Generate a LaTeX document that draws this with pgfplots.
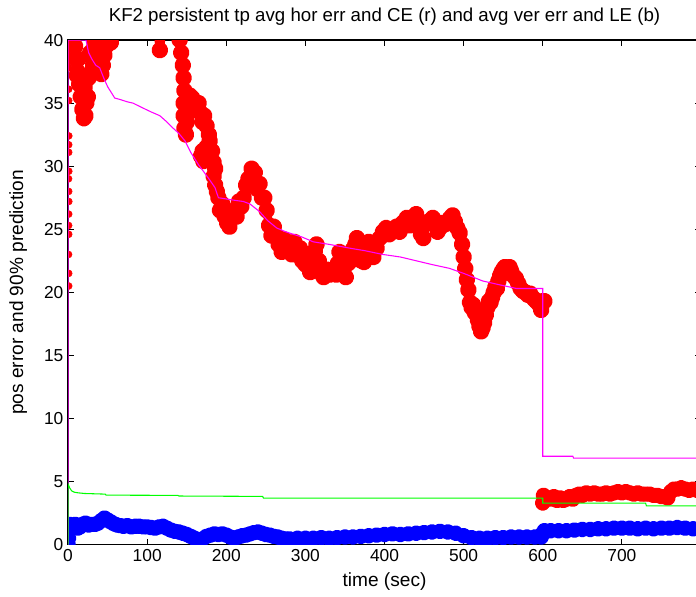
\documentclass[border=0pt]{standalone}
\usepackage{pgfplots}
\pgfplotsset{compat=1.18}
\usepackage{fontspec}
\setmainfont{Liberation Sans}
\definecolor{mred}{RGB}{255,0,0}
\definecolor{mblue}{RGB}{0,0,255}
\definecolor{mmag}{RGB}{255,0,255}
\definecolor{mgreen}{RGB}{0,255,0}
\begin{document}
\begin{tikzpicture}
\begin{axis}[name=ax, scale only axis, width=474.2pt, height=378pt,
  xmin=0, xmax=800, ymin=0, ymax=40,
  xtick={0,100,...,700}, ytick={0,5,...,40},
  tick align=inside, major tick length=4.5pt,
  axis line style={line width=0.9pt, black},
  every tick/.style={black, line width=0.6pt},
  /pgf/number format/assume math mode=true,
  tick label style={font=\fontsize{13}{15}\selectfont},
  title={KF2 persistent tp avg hor err and CE (r) and avg ver err and LE (b)},
  title style={font=\fontsize{14}{16}\selectfont, at={(axis description cs:0.5,1.0456)}, anchor=center, yshift=0pt},
  every axis title shift=0pt,
  xlabel={time (sec)},
  xlabel style={font=\fontsize{14.3}{16}\selectfont, at={(axis description cs:0.5,-0.0734)}, anchor=center},
  ylabel={pos error and 90\% prediction},
  ylabel style={font=\fontsize{14.3}{16}\selectfont, at={(axis description cs:-0.079,0.5)}, anchor=center, rotate=0},
  clip marker paths=true,
]
% red isolated dots at start
\addplot[only marks, mark=*, mark size=2.6pt, mred, mark options={draw=mred, fill=mred}] coordinates {
(0.8,20.5)(0.8,21.5)(0.6,23)(0.8,24.6)(0.7,25.3)(0.8,26.2)(0.9,27.2)(0.8,28)(0.6,29)(0.9,29.6)(0.8,31.1)(0.8,31.7)(0.9,32.4)(0.8,35.2)(0.8,36.1)(1,37.8)(1,38.3)(1.2,38.8)(1.3,39.3)(1.5,39.7)(2,40)
};
% red main band (hor err)
\addplot[mred, line width=6.5pt, line join=round, line cap=round, mark=*, mark size=3pt, mark options={draw=mred, fill=mred}] coordinates {
(3,40)(5,39.8)(7,40.2)(9,39.5)(10,38.5)(11,37.2)(12,37.5)(14,36.5)(13,38.5)(16,35.5)(18,34.5)(20,33.8)(22,34)(23,35)(24,37)(25,35.5)(26,37)(28,39)(30,40.5)(32,40.5)(34,39.5)(36,38.5)(38,37.8)(40,37.5)(42,37.3)(44,38)(46,38.8)(48,39.5)(50,40)(52,40.3)(54,39.8)(56,40.5)(58,41)(60,43)(70,45)(100,45)(110,43)(114,40.5)(116,39.2)(118,40.5)(122,43)(132,45)(138,43)(141,40)(143,39)(145,38)(146,37)(147,36)(146,35)(146,34)(147,33)(149,32.5)(150,33.5)(152,35)(154,35.6)(157,35.4)(160,34.9)(163,34.4)(165,35)(168,34.2)(170,33.5)(172,34)(175,33.2)(178,32.5)(176,31.5)(173,31)(170,31.2)(168,30.8)(171,30.4)(175,31.5)(179,32)(182,31.2)(184,30.3)(186,29.8)(184,29.2)(186,28.5)(188,28)(190,27.5)(192,26.5)(195,27)(198,26)(201,25.5)(204,25.2)(207,26.2)(210,26.5)(213,26)(216,27.2)(219,26.8)(222,27.5)(225,28.5)(228,29)(230,28.5)(232,29.8)(234,29)(236,29.5)(239,28.2)(242,28.6)(245,27.5)(248,27.5)(251,26.5)(254,25.3)(257,24.5)(260,25.2)(263,24.5)(266,23.8)(270,23.2)(273,24.2)(276,23.3)(280,23.8)(283,23)(286,24)(289,23.3)(293,23.5)(296,22.5)(300,22.2)(303,22.8)(306,21.6)(309,22.3)(312,23.3)(314,23.8)(317,22.5)(320,21.5)(323,21.2)(327,21.8)(331,21.4)(335,21.6)(339,21.4)(341,22.3)(343,23.2)(345,22.5)(348,21.7)(351,21.2)(354,22.3)(357,22.5)(360,23.4)(363,23.8)(365,24.3)(368,23.6)(371,22.5)(374,22.4)(377,23.3)(380,24)(383,23.6)(386,22.8)(390,23.5)(394,24.3)(398,24.8)(402,25.1)(406,24.6)(410,24.8)(415,25.2)(419,24.8)(423,25.5)(428,25.9)(432,25.3)(436,25.7)(440,26.2)(443,25.2)(446,24.6)(449,24.3)(452,25.4)(455,25.6)(458,25.5)(461,25.9)(464,25.4)(467,24.8)(470,25.1)(473,25.5)(477,25.4)(480,25.6)(483,25.9)(486,26.1)(489,25.6)(492,25.1)(495,24.7)(498,23.8)(500,22.8)(502,21.9)(504,21.0)(506,20.2)(508,19.2)(510,18.8)(512,19.0)(514,18.4)(516,18.3)(518,17.8)(520,17.3)(522,16.9)(524,17.2)(526,17.6)(528,18.2)(530,18.8)(532,19.3)(534,19.2)(536,19.6)(538,20.0)(540,20.4)(542,20.3)(544,20.9)(546,21.3)(548,21.6)(550,21.8)(552,22.0)(554,21.7)(556,21.9)(558,22.0)(560,21.7)(563,21.3)(566,21.1)(569,20.7)(572,20.3)(575,20.1)(578,20.0)(581,19.8)(584,19.9)(587,19.6)(590,19.4)(593,19.2)(596,19.0)(598,18.6)(600,19.3)(602,19.3)
};
% red after 600
\addplot[mred, line width=6pt, line join=round, line cap=round, mark=*, mark size=2.9pt, mark options={draw=mred, fill=mred}] coordinates {
(600,3.3)(601,3.9)(603,3.6)(606,3.7)(610,3.6)(614,3.8)(618,3.5)(622,3.7)(626,3.5)(630,3.6)(634,3.8)(638,3.6)(642,3.9)(646,4.0)(650,3.9)(655,4.1)(660,4.0)(665,4.1)(670,4.0)(675,4.0)(680,4.1)(685,4.0)(690,4.1)(695,4.2)(700,4.1)(705,4.2)(710,4.1)(715,4.0)(720,4.1)(725,4.0)(730,4.0)(735,4.0)(740,3.9)(745,3.9)(750,3.8)(755,3.8)(758,3.7)(762,4.2)(766,4.4)(770,4.4)(775,4.5)(780,4.4)(785,4.3)(790,4.4)(795,4.3)(800,4.3)
};
% blue (ver err)
\addplot[mblue, line width=6pt, line join=round, line cap=round, mark=*, mark size=2.9pt, mark options={draw=mblue, fill=mblue}] coordinates {
(0,0)(0.5,0.5)(1,1.2)(2,1.6)(4,1.3)(6,1.5)(9,1.6)(12,1.3)(15,1.4)(18,1.6)(22,1.7)(26,1.55)(30,1.6)(34,1.6)(38,1.7)(42,1.9)(46,2.1)(50,1.95)(54,1.8)(58,1.65)(62,1.55)(66,1.5)(70,1.45)(75,1.5)(80,1.4)(85,1.45)(90,1.45)(95,1.4)(100,1.4)(105,1.35)(110,1.3)(115,1.4)(120,1.45)(125,1.3)(130,1.15)(135,1.05)(140,1.0)(145,0.9)(150,0.8)(155,0.65)(160,0.5)(165,0.3)(170,0.45)(175,0.65)(180,0.75)(185,0.85)(190,0.8)(195,0.85)(200,0.75)(205,0.6)(210,0.5)(215,0.6)(220,0.7)(225,0.75)(230,0.85)(235,0.95)(240,1.0)(245,0.9)(250,0.8)(255,0.75)(260,0.65)(265,0.6)(270,0.5)(275,0.45)(280,0.45)(290,0.5)(300,0.5)(310,0.5)(320,0.55)(330,0.5)(340,0.55)(350,0.6)(360,0.6)(370,0.65)(380,0.7)(390,0.75)(400,0.8)(410,0.85)(420,0.8)(430,0.85)(440,0.9)(450,0.95)(460,1.0)(470,1.05)(480,1.0)(490,0.9)(500,0.7)(510,0.55)(520,0.5)(530,0.5)(540,0.55)(550,0.55)(560,0.6)(570,0.6)(580,0.6)(590,0.6)(598,0.6)(600,0.9)(602,1.1)(610,1.1)(620,1.1)(630,1.1)(640,1.15)(650,1.2)(660,1.2)(670,1.25)(680,1.25)(690,1.3)(700,1.3)(710,1.3)(720,1.25)(730,1.3)(740,1.25)(750,1.3)(760,1.3)(770,1.35)(780,1.3)(790,1.25)(800,1.3)
};
% magenta (CE)
\addplot[mmag, line width=0.8pt, mark=none] coordinates {
(0,0)(0,40)(22.7,40)(26,39)(30,38.5)(35,38)(40,37.8)(45,37)(50,36.3)(55,35.8)(59,35.4)(65,35.3)(75,35.1)(82,35.0)(95,34.6)(105,34.3)(116,34.0)(125,33.5)(133,33.0)(140,32.6)(147.8,32.0)(155,31.1)(160,30.6)(165,30.1)(171,29.6)(178,29)(185.7,28.3)(190,27.5)(200,27.4)(210,27.3)(221.5,27.2)(230,27.0)(242,26.4)(252,25.7)(263.7,25.1)(275,24.8)(284.6,24.6)(295,24.4)(310,24.0)(330,23.8)(356,23.5)(375,23.3)(398,23.0)(420,22.8)(440,22.5)(460,22.2)(482,21.9)(500,21.5)(524,20.9)(545,20.6)(567,20.3)(600,20.3)(600,7.0)(638,7.0)(639,6.85)(800,6.85)
};
% green (LE)
\addplot[mgreen, line width=0.8pt, mark=none] coordinates {
(0,0)(0,4.8)(2,4.5)(4.6,4.25)(8,4.15)(13,4.1)(21,4.05)(47,4.0)(48,3.92)(139,3.9)(140,3.85)(246,3.82)(247,3.68)(600,3.68)(600,3.28)(730,3.28)(731,3.07)(800,3.07)
};
\end{axis}
\pgfresetboundingbox
\path[use as bounding box] ([shift={(-51pt,-39pt)}]ax.south west) rectangle ([shift={(-3.75pt,30pt)}]ax.north east);
\end{tikzpicture}
\end{document}
